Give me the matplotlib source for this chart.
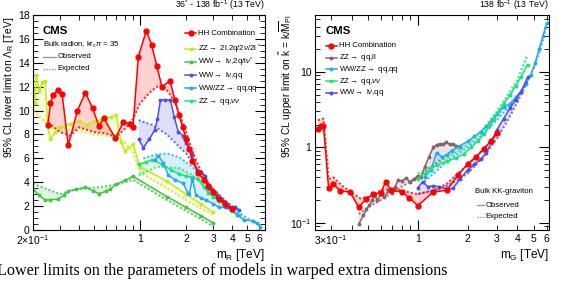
import numpy as np
import matplotlib
matplotlib.use("Agg")
import matplotlib.pyplot as plt
from matplotlib.ticker import FixedLocator, NullFormatter, FuncFormatter

plt.rcParams['font.family'] = ['Liberation Sans', 'DejaVu Sans']
plt.rcParams['mathtext.fontset'] = 'custom'
plt.rcParams['mathtext.rm'] = 'Liberation Sans'
plt.rcParams['mathtext.it'] = 'Liberation Sans:italic'

# ---------------- left panel: bulk radion, lower limit on Lambda_R [TeV]
hh_m = [0.25, 0.26, 0.27, 0.29, 0.31, 0.34, 0.39, 0.44, 0.49, 0.54, 0.58, 0.69, 0.78,
        0.86, 0.9, 0.975, 1.1, 1.19, 1.29, 1.39, 1.57, 1.69, 1.8, 1.9, 2.0, 2.1, 2.2,
        2.4, 2.6, 2.8, 3.0, 3.3, 3.6, 4.0]
hh_obs = [8.8, 10.6, 11.3, 11.7, 11.4, 7.1, 10.0, 11.5, 10.2, 8.7, 9.35, 7.7, 9.05,
          8.9, 8.65, 14.5, 16.7, 15.5, 13.7, 12.0, 12.5, 10.9, 9.6, 8.6, 7.6, 6.8, 5.8,
          4.8, 4.2, 3.7, 3.2, 2.6, 2.2, 1.8]
hh_exp_m = [0.25, 0.3, 0.35, 0.4, 0.5, 0.6, 0.7, 0.8, 0.9, 1.0, 1.1, 1.2, 1.3, 1.4,
            1.5, 1.6, 1.74, 1.9, 2.0, 2.2, 2.4, 2.6, 2.8, 3.0, 3.3, 3.6, 4.0]
hh_exp = [9.0, 8.2, 7.9, 8.6, 8.2, 8.1, 7.8, 8.5, 9.3, 10.6, 11.2, 11.7, 12.0, 12.1,
          11.7, 11.2, 10.3, 9.0, 8.2, 6.6, 5.4, 4.6, 3.9, 3.4, 2.8, 2.3, 1.8]

zz2l_m = [0.2, 0.205, 0.21, 0.22, 0.23, 0.24, 0.25, 0.26, 0.28, 0.3, 0.35, 0.4, 0.45,
          0.5, 0.55, 0.6, 0.65, 0.7, 0.75, 0.8, 0.9, 1.0, 1.5, 2.0, 2.5, 3.0]
zz2l_obs = [11.8, 10.6, 13.0, 11.6, 12.4, 12.5, 8.6, 7.6, 8.2, 8.6, 8.9, 9.1, 8.8,
            9.1, 9.2, 9.4, 9.5, 9.6, 7.4, 6.6, 7.2, 5.3, 4.1, 3.0, 2.2, 1.5]
zz2l_exp_m = [0.2, 0.22, 0.25, 0.3, 0.4, 0.5, 0.7, 0.8, 0.9, 1.0, 1.5, 2.0, 2.5, 3.0]
zz2l_exp = [10.0, 9.5, 8.8, 8.5, 8.3, 8.0, 7.8, 7.3, 6.5, 4.8, 3.5, 2.5, 1.8, 1.3]

wwlv2q_m = [0.2, 0.22, 0.24, 0.26, 0.29, 0.32, 0.34, 0.38, 0.44, 0.49, 0.54, 0.6,
            0.64, 0.7, 0.8, 0.9, 1.5, 2.0, 2.5, 3.0]
wwlv2q_obs = [3.4, 2.9, 2.5, 2.55, 2.57, 2.9, 3.25, 3.4, 3.57, 3.3, 3.05, 3.25,
              3.4, 3.85, 4.15, 4.5, 2.8, 1.9, 1.2, 0.6]
wwlv2q_exp_m = [0.2, 0.25, 0.3, 0.35, 0.45, 0.55, 0.7, 0.9, 1.5, 2.0, 2.5, 3.0]
wwlv2q_exp = [3.9, 3.4, 3.0, 3.3, 3.5, 3.6, 3.8, 4.2, 2.5, 1.6, 0.9, 0.3]

wwlvqq_m = [0.98, 1.05, 1.15, 1.25, 1.3, 1.36, 1.45, 1.58, 1.67, 1.78, 1.92, 2.0,
            2.17, 2.35, 2.5, 2.66, 2.8, 3.0, 3.2, 3.5, 3.7, 4.0, 4.2, 4.4]
wwlvqq_obs = [7.6, 6.9, 7.6, 8.4, 9.3, 10.9, 10.9, 10.9, 9.5, 8.2, 7.9, 7.3,
              6.4, 5.0, 4.9, 4.5, 3.5, 3.1, 2.8, 2.4, 1.95, 1.95, 1.95, 1.7]
wwlvqq_exp_m = [0.98, 1.2, 1.5, 2.0, 2.5, 3.0, 3.5, 4.0, 4.4]
wwlvqq_exp = [9.2, 8.8, 8.0, 6.4, 4.7, 3.4, 2.6, 2.0, 1.6]

vvqq_m = [1.25, 1.32, 1.42, 1.53, 1.69, 1.92, 2.05, 2.1, 2.2, 2.32, 2.5, 2.7, 3.0,
          3.3, 3.6, 3.9, 4.3, 4.8, 5.5, 5.8, 6.1]
vvqq_obs = [5.9, 6.2, 5.6, 4.6, 4.2, 3.9, 3.1, 3.0, 4.3, 2.9, 2.7, 2.5, 2.2,
            1.9, 1.9, 1.8, 1.25, 0.85, 0.78, 0.6, 0.28]
vvqq_exp_m = [1.05, 1.25, 1.5, 1.8, 2.2, 2.6, 3.0, 3.5, 4.0, 4.5, 5.0, 5.5, 6.1]
vvqq_exp = [6.0, 6.3, 6.4, 6.1, 5.3, 4.3, 3.5, 2.6, 1.9, 1.4, 1.0, 0.7, 0.35]

zzqqvv_m = [0.98, 1.1, 1.2, 1.4, 1.6, 1.8, 2.0, 2.2, 2.4, 2.6, 2.8, 3.0, 3.3, 3.6,
            4.0, 4.4]
zzqqvv_obs = [5.5, 5.7, 5.9, 5.5, 5.0, 4.7, 4.5, 4.4, 4.3, 3.6, 3.1, 2.8, 2.4, 2.0,
              1.6, 1.3]
zzqqvv_exp_m = [0.98, 1.3, 1.8, 2.2, 2.6, 3.0, 3.5, 4.0, 4.4]
zzqqvv_exp = [4.6, 5.3, 5.2, 4.6, 3.8, 3.0, 2.2, 1.6, 1.2]

# ---------------- right panel: bulk KK graviton, upper limit on k~
g_hh_m = [0.25, 0.26, 0.27, 0.29, 0.31, 0.34, 0.39, 0.44, 0.49, 0.54, 0.6, 0.64,
          0.69, 0.8, 0.89, 1.0, 1.24, 1.5, 1.75, 2.0, 2.25, 2.5, 2.75, 3.0]
g_hh_obs = [1.75, 1.95, 1.95, 0.285, 0.325, 0.265, 0.256, 0.162, 0.205, 0.24, 0.25,
            0.35, 0.27, 0.256, 0.215, 0.168, 0.256, 0.27, 0.43, 0.6, 0.75, 0.95, 1.2, 1.55]
g_hh_exp_m = [0.25, 0.27, 0.29, 0.31, 0.35, 0.4, 0.45, 0.5, 0.6, 0.7, 0.8, 0.9, 1.0,
              1.25, 1.5, 1.75, 2.0, 2.5, 3.0]
g_hh_exp = [2.3, 2.4, 0.38, 0.4, 0.31, 0.25, 0.21, 0.22, 0.27, 0.28, 0.27, 0.25, 0.24,
            0.27, 0.33, 0.45, 0.58, 0.95, 1.5]

g_zzll_m = [0.44, 0.47, 0.49, 0.51, 0.53, 0.55, 0.57, 0.6, 0.63, 0.66, 0.7, 0.73, 0.76,
            0.8, 0.85, 0.9, 0.95, 1.0, 1.05, 1.1, 1.17, 1.24, 1.3, 1.36, 1.42, 1.49,
            1.56, 1.63, 1.7, 1.8]
g_zzll_obs = [0.095, 0.125, 0.15, 0.17, 0.2, 0.23, 0.2, 0.245, 0.22, 0.26, 0.25, 0.3,
              0.37, 0.36, 0.39, 0.35, 0.38, 0.42, 0.4, 0.55, 0.75, 1.0, 1.08, 1.12,
              1.1, 1.17, 1.1, 1.12, 1.05, 1.0]
g_zzll_exp_m = [0.44, 0.5, 0.6, 0.7, 0.8, 0.9, 1.0, 1.2, 1.4, 1.6, 1.8]
g_zzll_exp = [0.13, 0.16, 0.2, 0.25, 0.3, 0.35, 0.4, 0.55, 0.7, 0.9, 1.05]

g_vvqq_m = [1.1, 1.2, 1.3, 1.4, 1.5, 1.6, 1.8, 2.0, 2.2, 2.4, 2.6, 2.8, 3.0, 3.3, 3.6,
            3.9, 4.2, 4.5, 4.8, 5.1, 5.4, 5.7, 6.0]
g_vvqq_obs = [0.4, 0.5, 0.85, 0.75, 0.8, 0.9, 1.05, 1.2, 1.4, 1.6, 1.9, 2.3, 2.8, 3.4,
              3.8, 4.6, 5.5, 7.0, 9.0, 13, 20, 30, 45]
g_vvqq_exp_m = [1.1, 1.5, 2.0, 2.5, 3.0, 3.5, 4.0, 4.5, 5.0, 5.5, 6.0]
g_vvqq_exp = [0.35, 0.65, 1.0, 1.5, 2.3, 3.3, 4.8, 7.0, 11, 20, 40]

g_zzvv_m = [1.0, 1.1, 1.2, 1.3, 1.5, 1.7, 1.9, 2.1, 2.3, 2.5, 2.7, 2.9, 3.1, 3.3, 3.6,
            3.9, 4.2, 4.6]
g_zzvv_obs = [0.38, 0.45, 0.52, 0.58, 0.65, 0.72, 0.82, 1.0, 1.2, 1.5, 1.9, 2.4, 3.0,
              3.8, 4.9, 6.5, 8.6, 12.5]
g_zzvv_exp_m = [1.0, 1.3, 1.6, 2.0, 2.5, 3.0, 3.5, 4.0, 4.6]
g_zzvv_exp = [0.45, 0.6, 0.8, 1.1, 1.8, 3.0, 5.0, 8.0, 17]

g_wwlv_m = [1.0, 1.07, 1.15, 1.24, 1.35, 1.5, 1.63, 1.8, 2.0, 2.2, 2.4, 2.6, 2.8, 3.0,
            3.3, 3.6, 3.9, 4.2, 4.6]
g_wwlv_obs = [0.29, 0.35, 0.3, 0.31, 0.3, 0.28, 0.285, 0.38, 0.5, 0.6, 0.7, 0.85, 1.2,
              1.7, 2.4, 3.3, 4.3, 5.5, 8.5]
g_wwlv_exp_m = [1.0, 1.3, 1.6, 2.0, 2.5, 3.0, 3.5, 4.0, 4.6]
g_wwlv_exp = [0.24, 0.27, 0.33, 0.45, 0.75, 1.3, 2.3, 4.0, 7.5]

RED = '#ff0000'
LIME = '#c4ea1a'
GREEN = '#44c444'
BLUE = '#5050e0'
CYAN = '#22aaee'
SPRING = '#22e07e'
BROWN = '#8a6464'

FS_LEG = 5.6


def draw(ax, m, obs, me, exp, color, big=False):
    ax.fill(np.r_[m, me[::-1]], np.r_[obs, exp[::-1]], color=color, alpha=0.18, lw=0)
    ax.plot(me, exp, ls=(0, (1, 1)), color=color, lw=1.5, alpha=0.8)
    ax.plot(m, obs, '-', color=color, lw=1.1,
            marker='o', ms=3.5 if big else 1.8, mec=color)


def style(ax):
    ax.tick_params(which='both', direction='in', top=True, right=True, labelsize=7.5,
                   pad=2.5)
    ax.tick_params(which='major', length=7)
    ax.tick_params(which='minor', length=3.5)


fig = plt.figure(figsize=(5.62, 2.84), dpi=100)
ax1 = fig.add_axes([0.0587, 0.190, 0.4128, 0.757])
ax2 = fig.add_axes([0.5605, 0.190, 0.4164, 0.757])

# left
draw(ax1, zz2l_m, zz2l_obs, zz2l_exp_m, zz2l_exp, LIME)
draw(ax1, wwlv2q_m, wwlv2q_obs, wwlv2q_exp_m, wwlv2q_exp, GREEN)
draw(ax1, zzqqvv_m, zzqqvv_obs, zzqqvv_exp_m, zzqqvv_exp, SPRING)
draw(ax1, vvqq_m, vvqq_obs, vvqq_exp_m, vvqq_exp, CYAN)
draw(ax1, wwlvqq_m, wwlvqq_obs, wwlvqq_exp_m, wwlvqq_exp, BLUE)
draw(ax1, hh_m, hh_obs, hh_exp_m, hh_exp, RED, big=True)

ax1.set_xscale('log')
ax1.set_xlim(0.2, 6.55)
ax1.set_ylim(0, 18)
ax1.set_yticks(np.arange(0, 19, 2))
ax1.yaxis.set_minor_locator(FixedLocator(np.arange(0, 18.1, 0.5)))
ax1.xaxis.set_major_locator(FixedLocator([1]))
ax1.xaxis.set_major_formatter(FuncFormatter(lambda v, p: '1'))
ax1.xaxis.set_minor_locator(FixedLocator([0.2, 0.3, 0.4, 0.5, 0.6, 0.7, 0.8, 0.9,
                                          2, 3, 4, 5, 6]))
lab1 = {0.2: r'2$\times$10$^{-1}$', 2: '2', 3: '3', 4: '4', 5: '5', 6: '6'}
ax1.xaxis.set_minor_formatter(FuncFormatter(lambda v, p: lab1.get(round(v, 2), '')))
style(ax1)
ax1.set_xlabel(r'm$_{\rm R}$ [TeV]', loc='right', fontsize=8.5, labelpad=0)
ax1.set_ylabel(r'95% CL lower limit on $\Lambda_{\rm R}$ [TeV]', loc='top', fontsize=7.3)
ax1.yaxis.set_label_coords(-0.075, 0.995)
ax1.text(1.0, 1.012, r'36$^{*}$ - 138 fb$^{-1}$ (13 TeV)', transform=ax1.transAxes,
         ha='right', va='bottom', fontsize=6.3)
ax1.text(0.04, 0.925, 'CMS', transform=ax1.transAxes, fontsize=8.2, fontweight='bold',
         va='center')
ax1.text(0.043, 0.86, r'Bulk radion, kr$_{\rm c}\pi$ = 35', transform=ax1.transAxes,
         fontsize=FS_LEG, va='center')
ax1.plot([0.045, 0.098], [0.805, 0.805], color='#999999', lw=1, transform=ax1.transAxes)
ax1.plot([0.045, 0.098], [0.751, 0.751], color='#999999', lw=1, ls=(0, (1, 1)),
         transform=ax1.transAxes)
ax1.text(0.105, 0.805, 'Observed', transform=ax1.transAxes, fontsize=FS_LEG, va='center')
ax1.text(0.105, 0.751, 'Expected', transform=ax1.transAxes, fontsize=FS_LEG, va='center')

leg1 = [('HH Combination', RED, True),
        (r'ZZ$\rightarrow$ 2l,2q/2$\nu$/2l $^{*}$', LIME, False),
        (r'WW$\rightarrow$ l$\nu$,2q/l$\nu^{*}$', GREEN, False),
        (r'WW$\rightarrow$ l$\nu$,qq', BLUE, False),
        (r'WW/ZZ$\rightarrow$ qq,qq', CYAN, False),
        (r'ZZ$\rightarrow$ qq,$\nu\nu$', SPRING, False)]
ys1 = [0.916, 0.842, 0.781, 0.721, 0.660, 0.600]
for (t, c, big), y in zip(leg1, ys1):
    ax1.plot([0.655, 0.703], [y, y], color=c, lw=1.1, transform=ax1.transAxes)
    ax1.plot([0.679], [y], 'o', color=c, ms=3.5 if big else 1.8, transform=ax1.transAxes)
    ax1.text(0.713, y, t, transform=ax1.transAxes, fontsize=FS_LEG, va='center')

# right
draw(ax2, g_zzll_m, g_zzll_obs, g_zzll_exp_m, g_zzll_exp, BROWN)
draw(ax2, g_vvqq_m, g_vvqq_obs, g_vvqq_exp_m, g_vvqq_exp, CYAN)
draw(ax2, g_zzvv_m, g_zzvv_obs, g_zzvv_exp_m, g_zzvv_exp, SPRING)
draw(ax2, g_wwlv_m, g_wwlv_obs, g_wwlv_exp_m, g_wwlv_exp, BLUE)
draw(ax2, g_hh_m, g_hh_obs, g_hh_exp_m, g_hh_exp, RED, big=True)

ax2.set_xscale('log')
ax2.set_yscale('log')
ax2.set_xlim(0.24, 6.2)
ax2.set_ylim(0.08, 57)
ax2.xaxis.set_major_locator(FixedLocator([1]))
ax2.xaxis.set_major_formatter(FuncFormatter(lambda v, p: '1'))
ax2.xaxis.set_minor_locator(FixedLocator([0.3, 0.4, 0.5, 0.6, 0.7, 0.8, 0.9,
                                          2, 3, 4, 5, 6]))
lab2 = {0.3: r'3$\times$10$^{-1}$', 2: '2', 3: '3', 4: '4', 5: '5', 6: '6'}
ax2.xaxis.set_minor_formatter(FuncFormatter(lambda v, p: lab2.get(round(v, 2), '')))
ax2.yaxis.set_major_locator(FixedLocator([0.1, 1, 10]))
laby = {0.1: r'10$^{-1}$', 1: '1', 10: '10'}
ax2.yaxis.set_major_formatter(FuncFormatter(lambda v, p: laby.get(round(v, 2), '')))
ax2.yaxis.set_minor_locator(FixedLocator([0.08, 0.09] + [i * 0.1 for i in range(2, 10)]
                                         + list(range(2, 10)) + [20, 30, 40, 50]))
ax2.yaxis.set_minor_formatter(NullFormatter())
style(ax2)
ax2.set_xlabel(r'm$_{\rm G}$ [TeV]', loc='right', fontsize=8.5, labelpad=0)
ax2.set_ylabel(r'95% CL upper limit on $\tilde{\rm k}$ = k/$\overline{\rm M}_{\rm Pl}$',
               loc='top', fontsize=7.3)
ax2.yaxis.set_label_coords(-0.085, 1.0)
ax2.text(1.0, 1.012, r'138 fb$^{-1}$ (13 TeV)', transform=ax2.transAxes,
         ha='right', va='bottom', fontsize=6.3)
ax2.text(0.043, 0.925, 'CMS', transform=ax2.transAxes, fontsize=8.2, fontweight='bold',
         va='center')

leg2 = [('HH Combination', RED, True),
        (r'ZZ$\rightarrow$ qq,ll', BROWN, False),
        (r'WW/ZZ$\rightarrow$ qq,qq', CYAN, False),
        (r'ZZ$\rightarrow$ qq,$\nu\nu$', SPRING, False),
        (r'WW$\rightarrow$ l$\nu$,qq', BLUE, False)]
ys2 = [0.857, 0.801, 0.747, 0.693, 0.638]
for (t, c, big), y in zip(leg2, ys2):
    ax2.plot([0.047, 0.094], [y, y], color=c, lw=1.1, transform=ax2.transAxes)
    ax2.plot([0.0705], [y], 'o', color=c, ms=3.5 if big else 1.8, transform=ax2.transAxes)
    ax2.text(0.102, y, t, transform=ax2.transAxes, fontsize=FS_LEG, va='center')

ax2.text(0.684, 0.178, 'Bulk KK-graviton', transform=ax2.transAxes, fontsize=FS_LEG,
         va='center')
ax2.plot([0.692, 0.722], [0.116, 0.116], color='#999999', lw=1, transform=ax2.transAxes)
ax2.plot([0.692, 0.722], [0.062, 0.062], color='#999999', lw=1, ls=(0, (1, 1)),
         transform=ax2.transAxes)
ax2.text(0.728, 0.116, 'Observed', transform=ax2.transAxes, fontsize=FS_LEG, va='center')
ax2.text(0.728, 0.062, 'Expected', transform=ax2.transAxes, fontsize=FS_LEG, va='center')

fig.text(-0.005, 0.045, 'Lower limits on the parameters of models in warped extra dimensions',
         family=['Liberation Serif', 'DejaVu Serif'], fontsize=11.6, ha='left', va='center')

fig.savefig('out.png', dpi=100)
